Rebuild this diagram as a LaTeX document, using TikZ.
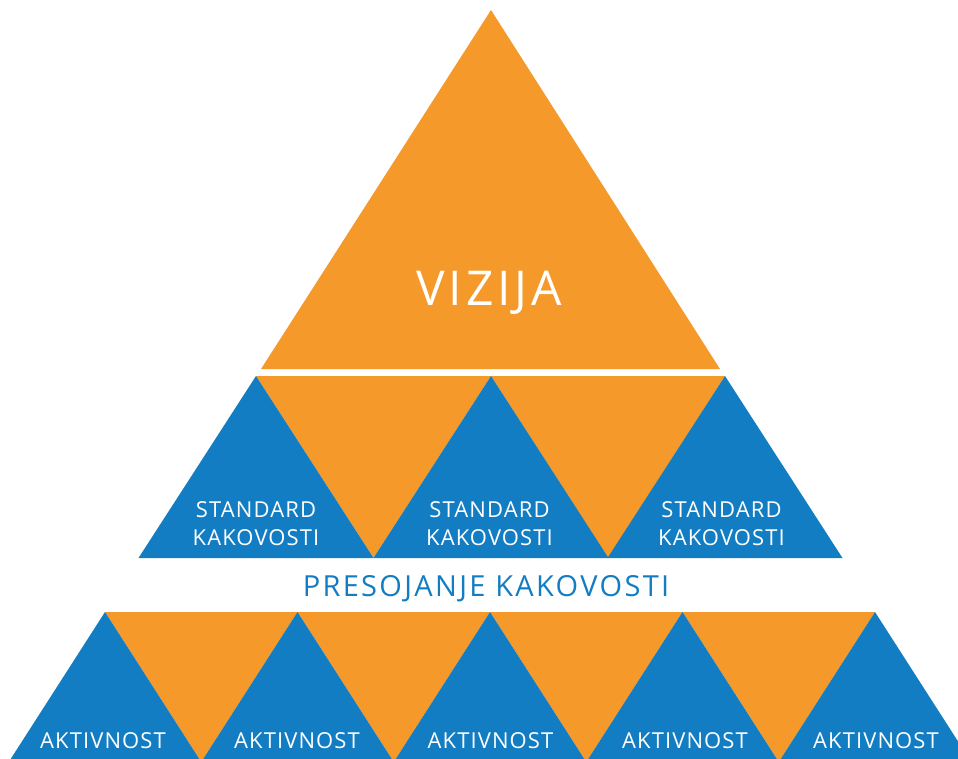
\documentclass[tikz,border=0pt]{standalone}
\usepackage{fontspec}
\setmainfont{Open Sans}
\newfontfamily\spacedsmall[LetterSpace=5]{Open Sans}
\newfontfamily\spacedbig[LetterSpace=8]{Open Sans}
\definecolor{porange}{HTML}{F6992B}
\definecolor{pblue}{HTML}{127DC2}
\begin{document}
\begin{tikzpicture}[x=1pt,y=-1pt,
  bluetri/.style={fill=pblue},
  orangetri/.style={fill=porange},
  smalltxt/.style={text=white,font=\spacedsmall\fontsize{22}{28}\selectfont,align=center,anchor=base,inner sep=0pt},
  bigtxt/.style={text=white,font=\spacedbig\fontsize{48}{52}\selectfont,anchor=base,inner sep=0pt},
  midtxt/.style={text=pblue,font=\spacedbig\fontsize{29}{32}\selectfont,anchor=base,inner sep=0pt}]
\useasboundingbox (0,0) rectangle (958,758);
\begin{scope}
\clip (0,0) rectangle (958,758);
% top triangle
\fill[orangetri] (491,10) -- (720,369) -- (261,369) -- cycle;
% middle row
\foreach \a/\b in {256/491,491/725}{
  \fill[orangetri] (\a,376) -- (\b,376) -- ({(\a+\b)/2},558) -- cycle;
}
\foreach \a in {256,491,725}{
  \fill[bluetri] (\a,376) -- (\a+117.5,558) -- (\a-117.5,558) -- cycle;
}
% bottom row
\foreach \i in {0,1,2,3}{
  \pgfmathsetmacro{\xa}{105+192.5*\i}
  \fill[orangetri] (\xa,612) -- (\xa+192.5,612) -- (\xa+96.25,762) -- cycle;
}
\foreach \i in {0,...,4}{
  \pgfmathsetmacro{\xa}{105+192.5*\i}
  \fill[bluetri] (\xa,612) -- (\xa+96.25,762) -- (\xa-96.25,762) -- cycle;
}
\end{scope}
% texts
\node[bigtxt] (vizija) at (489,305) {VIZIJA};
\node[smalltxt] (s1) at (256,545) {STANDARD\\KAKOVOSTI};
\node[smalltxt] (s2) at (489.5,545) {STANDARD\\KAKOVOSTI};
\node[smalltxt] (s3) at (721.5,545) {STANDARD\\KAKOVOSTI};
\node[midtxt] (pres) at (486,596) {PRESOJANJE KAKOVOSTI};
\node[smalltxt] (a1) at (103,748) {AKTIVNOST};
\node[smalltxt] (a2) at (297,748) {AKTIVNOST};
\node[smalltxt] (a3) at (490.5,748) {AKTIVNOST};
\node[smalltxt] (a4) at (685,748) {AKTIVNOST};
\node[smalltxt] (a5) at (876,748) {AKTIVNOST};
\end{tikzpicture}
\end{document}
